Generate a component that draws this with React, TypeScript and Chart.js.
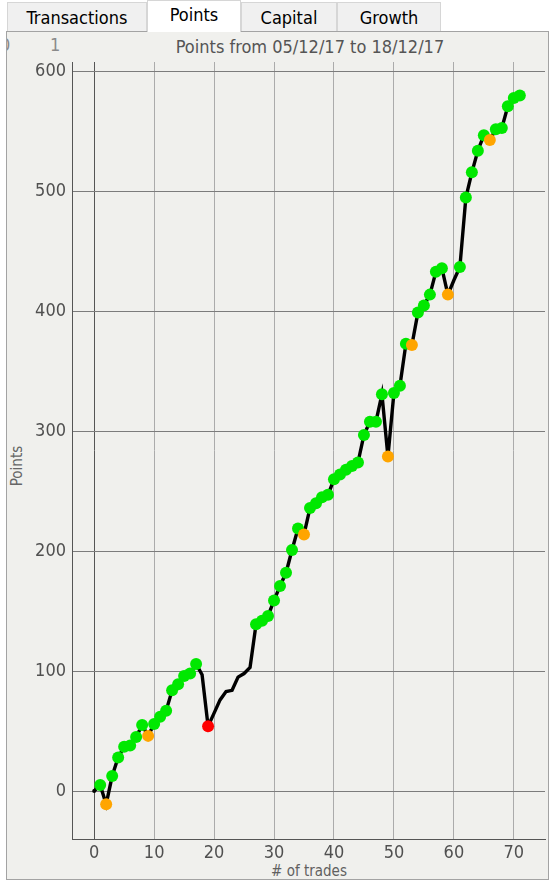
import React, { useEffect, useRef } from "react";
import { Chart, registerables } from "chart.js";

Chart.register(...registerables);

const trades: number[] = Array.from({ length: 72 }, (_, i) => i);
const points: number[] = [
  0, 5, -11, 12.5, 28, 37, 38, 45, 55, 46,
  56, 62, 67, 84, 89, 96, 98, 106, 97, 54,
  65, 76, 83, 84, 95, 98, 103, 139, 142, 146,
  159, 171, 182, 201, 219, 214, 236, 240, 245, 247,
  260, 264, 268, 271, 274, 297, 308, 308, 331, 279,
  332, 338, 373, 372, 399, 405, 414, 433, 436, 414,
  426, 437, 495, 516, 534, 547, 543, 552, 553, 571,
  578, 580,
];
// g = gain (green), o = loss (orange), r = big loss (red), n = no marker, s = start
const kinds: string[] = [
  "s", "g", "o", "g", "g", "g", "g", "g", "g", "o",
  "g", "g", "g", "g", "g", "g", "g", "g", "n", "r",
  "n", "n", "n", "n", "n", "n", "n", "g", "g", "g",
  "g", "g", "g", "g", "g", "o", "g", "g", "g", "g",
  "g", "g", "g", "g", "g", "g", "g", "g", "g", "o",
  "g", "g", "g", "o", "g", "g", "g", "g", "g", "o",
  "n", "g", "g", "g", "g", "g", "o", "g", "g", "g",
  "g", "g",
];
const yTicks: number[] = [0, 100, 200, 300, 400, 500, 600];
const xTicks: number[] = [0, 10, 20, 30, 40, 50, 60, 70];
const tabs: string[] = ["Transactions", "Points", "Capital", "Growth"];
const titleText = "Points from 05/12/17 to 18/12/17";

const FONT = "'DejaVu Sans Condensed', 'DejaVu Sans', sans-serif";
const colorOf: Record<string, string> = {
  g: "#00e800",
  o: "#ffa500",
  r: "#ff0000",
  n: "rgba(0,0,0,0)",
  s: "#000000",
};
const radiusOf: Record<string, number> = { g: 6, o: 6, r: 6, n: 0, s: 2 };

const tabGeom = [
  { left: 7, width: 140 },
  { left: 147, width: 94 },
  { left: 241, width: 96 },
  { left: 337, width: 104 },
];

export default function App() {
  const canvasRef = useRef<HTMLCanvasElement | null>(null);

  useEffect(() => {
    const canvas = canvasRef.current;
    if (!canvas) return;
    const chart = new Chart(canvas, {
      type: "line",
      data: {
        datasets: [
          {
            data: trades.map((t, i) => ({ x: t, y: points[i] })),
            borderColor: "#000000",
            borderWidth: 3.4,
            tension: 0,
            pointBackgroundColor: kinds.map((k) => colorOf[k]),
            pointBorderColor: kinds.map((k) => colorOf[k]),
            pointBorderWidth: 0,
            pointRadius: kinds.map((k) => radiusOf[k]),
            pointHoverRadius: kinds.map((k) => radiusOf[k]),
          },
        ],
      },
      options: {
        animation: false,
        responsive: false,
        maintainAspectRatio: false,
        events: [],
        layout: { padding: { left: 0, top: 62, right: 3, bottom: 0 } },
        plugins: {
          legend: { display: false },
          tooltip: { enabled: false },
          title: { display: false },
        },
        scales: {
          x: {
            type: "linear",
            min: -3.7,
            max: 75.2,
            afterBuildTicks: (axis: any) => {
              axis.ticks = xTicks.map((v) => ({ value: v }));
            },
            afterFit: (scale: any) => {
              scale.height = 45;
            },
            grid: {
              drawTicks: false,
              color: (ctx: any) => (ctx.tick && ctx.tick.value === 0 ? "#555555" : "#ababab"),
              lineWidth: 1,
            },
            border: { display: true, color: "#555555", width: 1 },
            ticks: {
              padding: 4,
              color: "#505050",
              font: { family: FONT, size: 18 },
              maxRotation: 0,
              autoSkip: false,
            },
          },
          y: {
            type: "linear",
            min: -40,
            max: 608,
            afterBuildTicks: (axis: any) => {
              axis.ticks = yTicks.map((v) => ({ value: v }));
            },
            afterFit: (scale: any) => {
              scale.width = 72;
            },
            grid: { drawTicks: false, color: "#7c7c7c", lineWidth: 1 },
            border: { display: true, color: "#555555", width: 1 },
            ticks: {
              padding: 6,
              color: "#505050",
              font: { family: FONT, size: 18 },
              autoSkip: false,
            },
          },
        },
      },
    });
    return () => chart.destroy();
  }, []);

  return (
    <div
      style={{
        position: "fixed",
        left: 0,
        top: 0,
        width: 551,
        height: 884,
        background: "#ffffff",
        overflow: "hidden",
        fontFamily: FONT,
      }}
    >
      <div
        style={{
          position: "absolute",
          left: 6,
          top: 31,
          width: 543,
          height: 849,
          background: "#f0f0ed",
          border: "1px solid #a3a3a3",
          boxSizing: "border-box",
        }}
      />
      {tabs.map((t, i) => {
        const sel = i === 1;
        return (
          <div
            key={t}
            style={{
              position: "absolute",
              left: tabGeom[i].left,
              top: sel ? 0 : 2,
              width: tabGeom[i].width,
              height: sel ? 32 : 29,
              background: sel ? "#ffffff" : "#f0f0f0",
              border: "1px solid #d6d6d6",
              borderBottom: "none",
              boxSizing: "border-box",
              display: "flex",
              alignItems: "center",
              justifyContent: "center",
              fontSize: 18,
              color: "#000000",
              paddingBottom: sel ? 4 : 0,
            }}
          >
            {t}
          </div>
        );
      })}
      <div
        style={{
          position: "absolute",
          left: 7,
          top: 35,
          width: 14,
          height: 20,
          overflow: "hidden",
          color: "#8a8a8a",
          fontSize: 18,
          lineHeight: "20px",
        }}
      >
        <span style={{ marginLeft: -7 }}>0</span>
      </div>
      <div
        style={{
          position: "absolute",
          left: 50,
          top: 35,
          color: "#8a8a8a",
          fontSize: 18,
          lineHeight: "20px",
        }}
      >
        1
      </div>
      <div
        style={{
          position: "absolute",
          left: 110,
          width: 400,
          top: 37,
          textAlign: "center",
          color: "#555555",
          fontSize: 18,
          lineHeight: "20px",
        }}
      >
        {titleText}
      </div>
      <div
        style={{
          position: "absolute",
          left: 209,
          width: 200,
          top: 862,
          textAlign: "center",
          color: "#606060",
          fontSize: 15,
          lineHeight: "18px",
        }}
      >
        # of trades
      </div>
      <div
        style={{
          position: "absolute",
          left: 17,
          top: 466,
          transform: "translate(-50%, -50%) rotate(-90deg)",
          color: "#666666",
          fontSize: 15,
          lineHeight: "18px",
          whiteSpace: "nowrap",
        }}
      >
        Points
      </div>
      <canvas
        ref={canvasRef}
        width={551}
        height={884}
        style={{ position: "absolute", left: 0, top: 0, width: 551, height: 884 }}
      />
    </div>
  );
}
